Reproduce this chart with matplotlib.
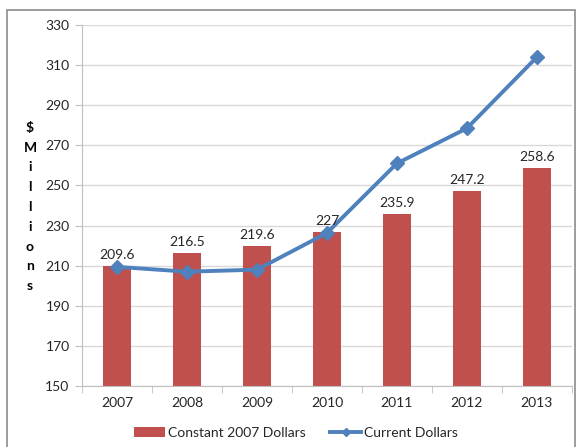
import matplotlib
matplotlib.use("Agg")
import matplotlib.pyplot as plt
from matplotlib.patches import Rectangle
from matplotlib.lines import Line2D

years = ["2007", "2008", "2009", "2010", "2011", "2012", "2013"]
constant_2007 = [209.6, 216.5, 219.6, 227, 235.9, 247.2, 258.6]
current = [209.4, 207.0, 208.0, 226.3, 261.0, 278.5, 314.0]
yticks = [150, 170, 190, 210, 230, 250, 270, 290, 310, 330]

plt.rcParams['font.family'] = ['Lato', 'DejaVu Sans']

fig = plt.figure(figsize=(5.77, 4.47), dpi=100)
ax = fig.add_axes([0.1421, 0.1365, 0.849, 0.8075])

x = list(range(len(years)))
bars = ax.bar(x, constant_2007, width=0.4, color="#C0504D", zorder=2,
              label="Constant 2007 Dollars")
line, = ax.plot(x, current, color="#4F81BD", lw=2.8, marker="D", markersize=7,
                zorder=3, label="Current Dollars")

for xi, v in zip(x, constant_2007):
    ax.text(xi, v + 2.5, f"{v:g}", ha="center", va="bottom",
            fontsize=10, color="#262626", zorder=4)

ax.set_xlim(-0.5, len(years) - 0.5)
ax.set_ylim(150, 330)
ax.set_yticks(yticks)
ax.set_xticks(x)
ax.set_xticklabels(years)
ax.set_xticks([i - 0.5 for i in range(len(years) + 1)], minor=True)
ax.tick_params(axis="x", which="major", length=0, pad=8,
               labelsize=10, labelcolor="#262626")
ax.tick_params(axis="x", which="minor", length=5, color="#BFBFBF", direction="out")
ax.tick_params(axis="y", length=5, color="#BFBFBF", labelsize=10,
               labelcolor="#262626", pad=4)
ax.grid(axis="y", color="#D9D9D9", lw=1, zorder=0)
ax.set_axisbelow(True)
for s in ["top", "right"]:
    ax.spines[s].set_visible(False)
for s in ["left", "bottom"]:
    ax.spines[s].set_color("#BFBFBF")

fig.text(30 / 577, 1 - 207 / 447, "\\$\nM\ni\nl\nl\ni\no\nn\ns",
         ha="center", va="center", fontsize=10, fontweight="bold",
         linespacing=1.78, color="black")

line_handle = Line2D([], [], color="#4F81BD", lw=2.8, marker="D", markersize=4)
fig.legend([bars, line_handle], ["Constant 2007 Dollars", "Current Dollars"],
           loc="center", bbox_to_anchor=(296 / 577, 1 - 433 / 447), ncol=2,
           frameon=False, fontsize=10, handlelength=2.2, columnspacing=1.8,
           handletextpad=0.2, labelcolor="#262626")

fig.patches.append(Rectangle((7 / 577, -0.01), 568 / 577, 1 - 10 / 447 + 0.01,
                             transform=fig.transFigure, fill=False,
                             edgecolor="#8C8C8C", lw=1.2))

fig.savefig("out.png", dpi=100)
